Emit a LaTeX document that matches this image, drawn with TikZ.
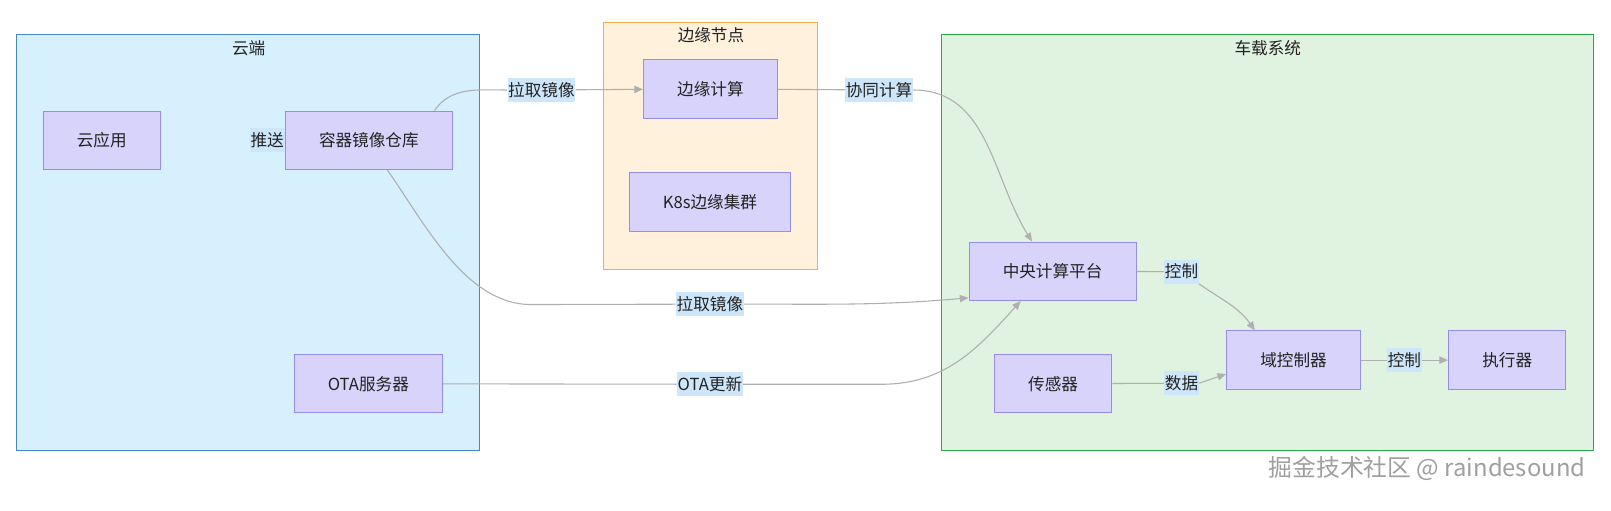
\documentclass[tikz,border=0pt]{standalone}
\usepackage{fontspec}
\setmainfont{Noto Sans CJK SC}
\usetikzlibrary{arrows.meta,calc}

\definecolor{cloudfill}{RGB}{214,240,253}
\definecolor{cloudline}{RGB}{70,136,196}
\definecolor{edgefill}{RGB}{255,241,220}
\definecolor{edgeline}{RGB}{244,172,72}
\definecolor{carfill}{RGB}{224,242,224}
\definecolor{carline}{RGB}{40,168,72}
\definecolor{boxfill}{RGB}{216,211,251}
\definecolor{boxline}{RGB}{150,140,235}
\definecolor{lblfill}{RGB}{205,230,250}
\definecolor{flowline}{RGB}{175,175,175}
\definecolor{ink}{RGB}{34,34,34}

\tikzset{
  box/.style={draw=boxline, fill=boxfill, text=ink, line width=0.7pt,
    minimum height=1.42cm, inner xsep=0.82cm},
  lbl/.style={fill=lblfill, text=ink, inner xsep=0.5pt, inner ysep=3pt},
  flow/.style={draw=flowline, line width=0.75pt},
  tip/.style={-{Triangle[length=6pt,width=5pt]}},
}

\begin{document}
\begin{tikzpicture}[x=0.025cm, y=0.025cm, font=\fontsize{11.5}{14}\selectfont]
  \useasboundingbox (0,0) rectangle (1568,-496.4);
  % zones
  \draw[fill=cloudfill, draw=cloudline, line width=0.7pt] (16,-34) rectangle (467,-438);
  \draw[fill=edgefill, draw=edgeline, line width=0.7pt] (587,-22) rectangle (796,-262);
  \draw[fill=carfill, draw=carline, line width=0.7pt] (916,-34) rectangle (1551,-438);
  \node[text=ink] (tcloud) at (242,-47) {云端};
  \node[text=ink] (tedge) at (692,-34) {边缘节点};
  \node[text=ink] (tcar) at (1234,-47) {车载系统};

  % nodes
  \node[box] (app) at (99,-136.5) {云应用};
  \node[box] (repo) at (359,-136.5) {容器镜像仓库};
  \node[box] (edgec) at (691.5,-86.5) {边缘计算};
  \node[box] (k8s) at (691,-196.5) {K8s边缘集群};
  \node[box] (ota) at (358.5,-373.5) {OTA服务器};
  \node[box] (cpu) at (1024.5,-264) {中央计算平台};
  \node[box] (sens) at (1025,-373.5) {传感器};
  \node[box] (dom) at (1259,-350.5) {域控制器};
  \node[box] (act) at (1467,-350.5) {执行器};

  % edge labels
  \node[lbl, anchor=east] (push) at (repo.west) {推送};
  \node[lbl] (pull1) at (527,-87.6) {拉取镜像};
  \node[lbl] (coop) at (855.6,-87.6) {协同计算};
  \node[lbl] (pull2) at (691,-296) {拉取镜像};
  \node[lbl] (otaup) at (691,-374) {OTA更新};
  \node[lbl] (ctl1) at (1150,-264.4) {控制};
  \node[lbl] (data) at (1150,-373) {数据};
  \node[lbl] (ctl2) at (1367,-350.5) {控制};

  % connectors
  \begin{scope}[flow]
    \draw (repo.north east) ++(-18,0) to[out=55,in=180] (pull1.west);
    \draw[tip] (pull1) -- (edgec);
    \draw (edgec) -- (coop);
    \draw[tip] (coop.east) to[out=0,in=122] ($(cpu.north)+(-20,0)$);
    \draw (repo.south) ++(18,0) to[out=-55,in=180,looseness=0.85] ++(140,-131) -- (pull2);
    \draw[tip] (pull2.east) to[out=0,in=185] ($(cpu.south west)+(0,3)$);
    \draw (ota) -- (otaup);
    \draw[tip] (otaup.east) -- ++(135,0) to[out=0,in=228] ($(cpu.south)+(-31,0)$);
    \draw (cpu) -- (ctl1);
    \draw[tip] (ctl1.south east) to[out=-35,in=125] ($(dom.north west)+(28,0)$);
    \draw (sens) -- (data);
    \draw[tip] (data.east) -- ($(dom.west)+(0,-13.5)$);
    \draw (dom) -- (ctl2);
    \draw[tip] (ctl2) -- (act);
  \end{scope}

  \node[anchor=east, text=gray!75, font=\fontsize{16.5}{20}\selectfont] (mark) at (1548,-455.5) {掘金技术社区 @ raindesound};
\end{tikzpicture}
\end{document}
